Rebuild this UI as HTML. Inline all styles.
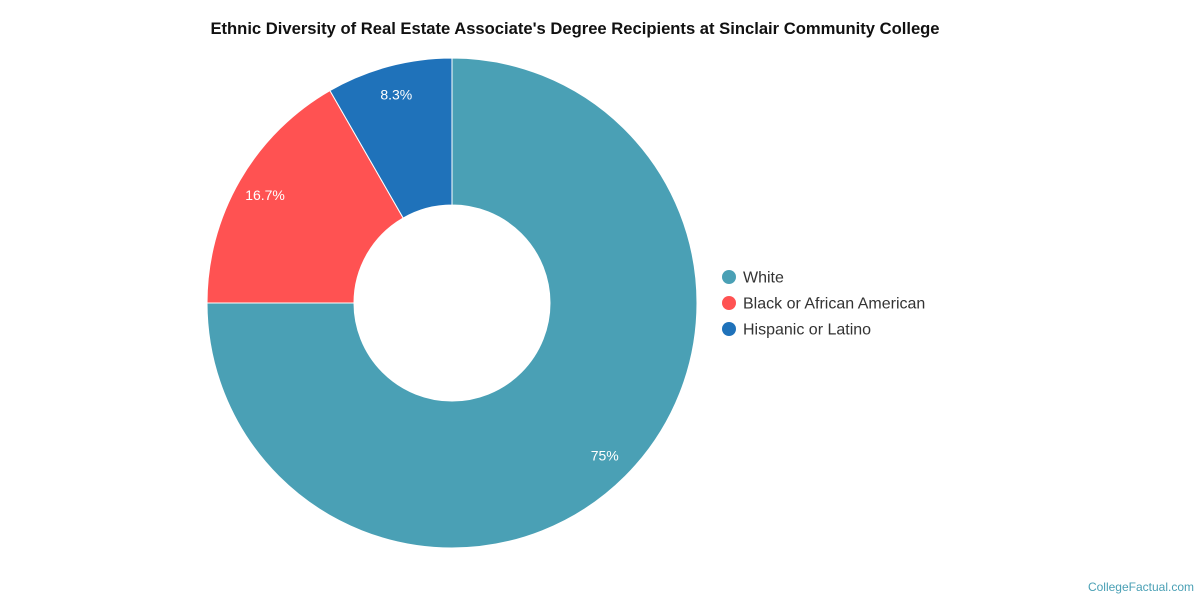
<!DOCTYPE html>
<html>
<head>
<meta charset="utf-8">
<style>
  html, body { margin:0; padding:0; background:#fff; }
  body { width:1200px; height:600px; overflow:hidden; font-family:"Liberation Sans", Arial, sans-serif; }
</style>
</head>
<body>
<svg id="chart" width="1200" height="600" xmlns="http://www.w3.org/2000/svg">
  <text x="575" y="34" text-anchor="middle" font-family="Liberation Sans, Arial, sans-serif" font-size="16.6" font-weight="bold" fill="#111">Ethnic Diversity of Real Estate Associate's Degree Recipients at Sinclair Community College</text>
  <g id="slices"></g>
  <g id="labels"></g>
  <g id="legend"></g>
  <text x="1194" y="591" text-anchor="end" font-family="Liberation Sans, Arial, sans-serif" font-size="12" fill="#4aa0b5">CollegeFactual.com</text>
</svg>
<script>
const categories = ["White", "Black or African American", "Hispanic or Latino"];
const values = [75, 16.7, 8.3];
const valueLabels = ["75%", "16.7%", "8.3%"];
const colors = ["#4aa0b5", "#ff5252", "#1f72ba"];

const NS = "http://www.w3.org/2000/svg";
const cx = 452, cy = 303, R = 245, r = 98, labelR = 216;
const total = values.reduce((a, b) => a + b, 0);
function pt(rad, ang) { return [cx + rad * Math.sin(ang), cy - rad * Math.cos(ang)]; }

const sg = document.getElementById("slices");
const lg = document.getElementById("labels");
let start = 0;
values.forEach((v, i) => {
  const a0 = start, a1 = start + v / total * 2 * Math.PI;
  start = a1;
  const large = (a1 - a0) > Math.PI ? 1 : 0;
  const [x0, y0] = pt(R, a0), [x1, y1] = pt(R, a1);
  const [x2, y2] = pt(r, a1), [x3, y3] = pt(r, a0);
  const p = document.createElementNS(NS, "path");
  p.setAttribute("d", `M${x0},${y0} A${R},${R} 0 ${large} 1 ${x1},${y1} L${x2},${y2} A${r},${r} 0 ${large} 0 ${x3},${y3} Z`);
  p.setAttribute("fill", colors[i]);
  p.setAttribute("stroke", "#fff");
  p.setAttribute("stroke-width", "1");
  
  
  sg.appendChild(p);
  const [lx, ly] = pt(labelR, (a0 + a1) / 2);
  const t = document.createElementNS(NS, "text");
  t.setAttribute("x", lx); t.setAttribute("y", ly + 5);
  t.setAttribute("text-anchor", "middle");
  t.setAttribute("font-size", "14");
  t.setAttribute("fill", "#fff");
  t.textContent = valueLabels[i];
  
  
  lg.appendChild(t);
});

const leg = document.getElementById("legend");
categories.forEach((c, i) => {
  const y = 277 + i * 26;
  const g = document.createElementNS(NS, "g");
  
  
  const dot = document.createElementNS(NS, "circle");
  dot.setAttribute("cx", 729); dot.setAttribute("cy", y); dot.setAttribute("r", 7);
  dot.setAttribute("fill", colors[i]);
  const t = document.createElementNS(NS, "text");
  t.setAttribute("x", 743); t.setAttribute("y", y + 5.5);
  t.setAttribute("font-size", "16"); t.setAttribute("fill", "#333");
  t.textContent = c;
  g.appendChild(dot); g.appendChild(t);
  leg.appendChild(g);
});
</script>
</body>
</html>
